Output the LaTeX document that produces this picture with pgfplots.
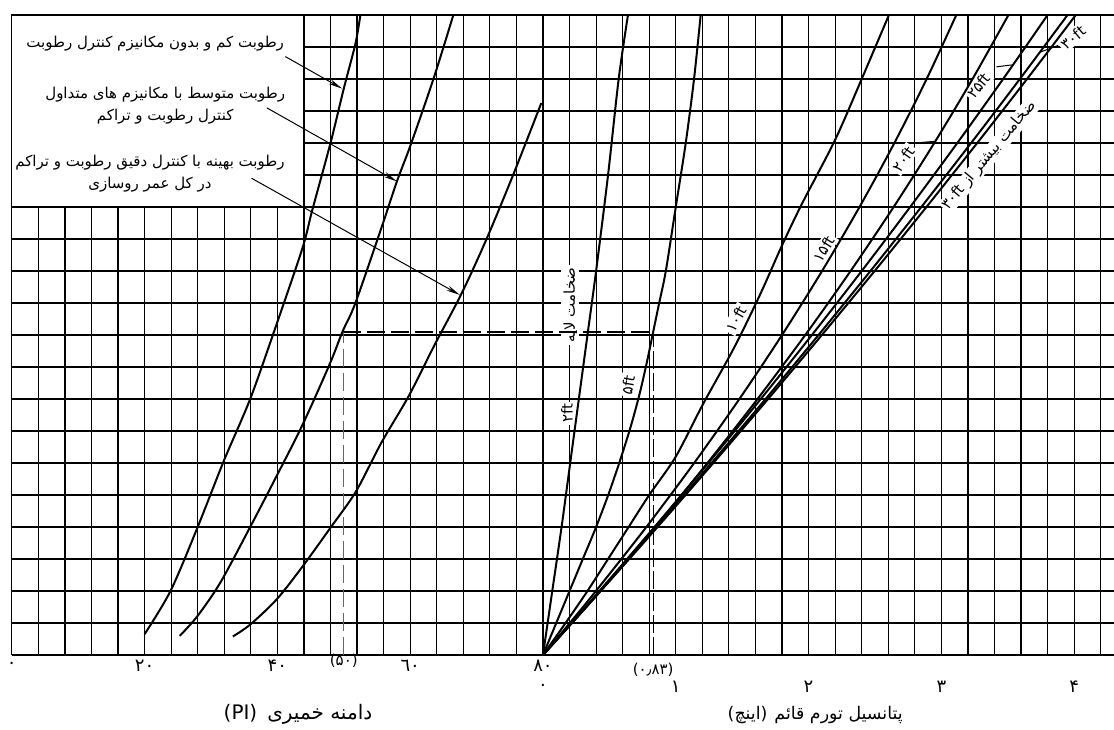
\documentclass[border=0pt]{standalone}
\usepackage{pgfplots}
\pgfplotsset{compat=1.18}
\usepackage{fontspec}
\setmainfont{DejaVu Sans}
\newfontfamily\fa[Script=Arabic]{DejaVu Sans}
\newfontfamily\la{DejaVu Sans}
\TeXXeTstate=1
\usetikzlibrary{arrows.meta}
\newcommand{\lbl}{\fa\fontsize{7.5}{9}\selectfont}
\newcommand{\llbl}{\la\fontsize{7.5}{9}\selectfont}
\newcommand{\tlbl}{\la\fontsize{9}{10}\selectfont}
\newcommand{\boxf}{\fa\fontsize{7.5}{11}\selectfont}
\newcommand{\R}[1]{\hbox{\fa\beginR #1\endR}}
\newcommand{\Lt}[1]{\hbox{\la #1}}
\begin{document}
\begin{tikzpicture}
\begin{axis}[
  scale only axis, width=551.1pt, height=320pt,
  xmin=0, xmax=166, ymin=0, ymax=20,
  xtick={0,4,...,164}, ytick={0,1,...,20},
  xmajorticks=false, ymajorticks=false,
  xmajorgrids=true, ymajorgrids=true,
  major grid style={black, line width=0.6pt},
  axis line style={draw=none},
  clip=false,
]
\coordinate (SW) at (rel axis cs:0,0);
\coordinate (NE) at (rel axis cs:1,1);
% white legend box
\fill[white] (axis cs:0,14) rectangle (axis cs:44,20);
\draw[black, line width=0.6pt] (axis cs:0,14) rectangle (axis cs:44,20);
\node[font=\boxf, align=center] at (axis cs:21.6,19.1) {\beginR رطوبت کم و بدون مکانیزم کنترل رطوبت\endR};
\node[font=\boxf, align=center] at (axis cs:23.1,17.16) {\beginR رطوبت متوسط با مکانیزم های متداول\endR\\\beginR کنترل رطوبت و تراکم\endR};
\node[font=\boxf, align=center] at (axis cs:20.8,15.03) {\beginR رطوبت بهینه با کنترل دقیق رطوبت و تراکم\endR\\\beginR در کل عمر روسازی\endR};

% labels on the fan (white background, drawn before curves)
\node[font=\lbl, rotate=90, fill=white, inner sep=1pt] at (axis cs:84.1,10.94) {\R{ضخامت لایه}};
\node[font=\llbl, rotate=90, fill=white, inner sep=1pt] at (axis cs:83.6,7.56) {۲ft};
\node[font=\llbl, rotate=80, fill=white, inner sep=1pt] at (axis cs:92.8,8.44) {۵ft};
\node[font=\llbl, rotate=60, fill=white, inner sep=1pt] at (axis cs:109.1,10.5) {۱۰ft};
\node[font=\llbl, rotate=58, fill=white, inner sep=1pt] at (axis cs:122.3,12.7) {۱۵ft};
\node[font=\llbl, rotate=55, fill=white, inner sep=1pt] at (axis cs:134.3,15.5) {۲۰ft};
\node[font=\llbl, rotate=50, fill=white, inner sep=1pt] at (axis cs:145.6,17.8) {۲۵ft};
\node[font=\llbl, rotate=50, fill=white, inner sep=0.5pt] at (axis cs:147.2,15.6) {\Lt{۳۰ft}\hspace{0.3em}\R{ضخامت بیشتر از}};
\node[font=\llbl, rotate=40, fill=white, inner sep=1pt] at (axis cs:159.8,19.3) {۳۰ft};

% leaders
\addplot[black, line width=0.5pt] coordinates {(136,16.0) (138.9,16.05)};
\addplot[black, line width=0.5pt] coordinates {(148.3,18.38) (150.6,18.44)};
\addplot[black, line width=0.5pt] coordinates {(154.9,18.84) (157.6,19.05)};

% dashed construction lines
\addplot[black, line width=0.8pt, dash pattern=on 9pt off 3pt] coordinates {(49.9,10.1) (96.6,10.1)};
\addplot[black!60, line width=0.5pt, dash pattern=on 9pt off 3pt] coordinates {(50,0) (50,10.1)};
\addplot[black, line width=0.6pt, dash pattern=on 9pt off 2pt] coordinates {(96.6,0) (96.6,10.1)};

% left curves (PI vs. moisture condition)
\addplot[black, line width=1pt, smooth] coordinates {
(20,0.65) (23.9,2.0) (27.9,3.95) (31.9,6.05) (35.9,8.0) (39.65,10.2) (43.75,12.7) (45.25,13.9) (48,16) (50,17.7) (51.75,19.1) (52.5,20)};
\addplot[black, line width=1pt, smooth] coordinates {
(25.3,0.6) (27.9,1.2) (31.4,2.26) (35.9,4.0) (39.9,5.6) (43.8,7.2) (47.9,9.1) (49.8,10.1) (51.75,11) (55.75,13.4) (58,14.8) (60,15.9) (63.5,18) (66.5,20)};
\addplot[black, line width=1pt, smooth] coordinates {
(33.3,0.58) (35.9,0.95) (39.9,1.74) (43.8,2.77) (47.9,3.95) (51.8,5.1) (55.65,6.63) (59.8,8.1) (63.65,9.68) (67.75,11.3) (71.5,13) (75.5,15) (79.75,17.25)};

% arrows
\addplot[black, line width=0.5pt, -{Stealth[length=7pt,width=2.6pt]}] coordinates {(41.2,18.7) (49.75,17.7)};
\addplot[black, line width=0.5pt, -{Stealth[length=7pt,width=2.6pt]}] coordinates {(38.4,17.1) (58,14.8)};
\addplot[black, line width=0.5pt, -{Stealth[length=7pt,width=2.6pt]}] coordinates {(36.1,14.9) (67.5,11.25)};

% right fan (swell potential vs. layer thickness)
\addplot[black, line width=1pt, smooth] coordinates {% 2ft
(80,0) (81.4,2) (82.8,4) (84.1,6) (85.4,8) (86.7,10) (88,12) (89.8,15) (91.4,18) (92.8,20)};
\addplot[black, line width=1pt, smooth] coordinates {% 5ft
(80,0) (82,1) (84,2) (86,3) (88,4) (90,5.1) (91.8,6.2) (93.3,7.2) (94.6,8.2) (95.7,9.2) (96.6,10.1) (97.5,11) (98.5,12) (100,14) (101.5,16) (102.75,18) (103.75,20)};
\addplot[black, line width=1pt, smooth] coordinates {% 10ft
(80,0) (83.4,1) (86.7,2) (89.8,3) (92.9,4) (96,5) (100,6.2) (104,7.8) (108,9.3) (110,10.1) (113,11.4) (116,12.8) (119,14.1) (124,16.1) (128,18) (132.1,20)};
\addplot[black, line width=1pt, smooth] coordinates {% 15ft
(80,0) (84.04,1) (87.98,2) (95.57,4) (102.77,6) (109.58,8) (116,10) (122.03,12) (127.67,14) (132.92,16) (137.78,18) (142.25,20)};
\addplot[black, line width=1pt, smooth] coordinates {% 20ft
(80,0) (84.35,1) (88.61,2) (96.87,4) (104.77,6) (112.31,8) (119.5,10) (126.33,12) (132.81,14) (138.93,16) (144.69,18) (150.1,20)};
\addplot[black, line width=1pt, smooth] coordinates {% 25ft
(80,0) (84.28,1) (88.5,2) (96.8,4) (104.9,6) (112.8,8) (120.5,10) (128,12) (135.3,14) (142.4,16) (149.3,18) (156,20)};
\addplot[black, line width=1pt, smooth] coordinates {% 30ft
(80,0) (84.33,1) (88.62,2) (97.08,4) (105.38,6) (113.52,8) (121.5,10) (129.32,12) (136.98,14) (144.48,16) (151.82,18) (159,20)};
\addplot[black, line width=1pt, smooth] coordinates {% more than 30ft
(80,0) (84.37,1) (88.7,2) (97.25,4) (105.65,6) (113.9,8) (122,10) (129.95,12) (137.75,14) (145.4,16) (152.9,18) (160.25,20)};

% tick labels
\node[font=\tlbl] at (axis cs:0,-0.34) {۰};
\node[font=\tlbl] at (axis cs:20,-0.34) {۲۰};
\node[font=\tlbl] at (axis cs:40,-0.34) {۴۰};
\node[font=\llbl] at (axis cs:50,-0.18) {(۵۰)};
\node[font=\tlbl] at (axis cs:60,-0.34) {٦۰};
\node[font=\tlbl] at (axis cs:80,-0.34) {۸۰};
\node[font=\tlbl] at (axis cs:80,-1.0) {۰};
\node[font=\llbl] at (axis cs:96.6,-0.45) {(۰٫۸۳)};
\node[font=\tlbl] at (axis cs:100,-1.0) {۱};
\node[font=\tlbl] at (axis cs:120,-1.0) {۲};
\node[font=\tlbl] at (axis cs:140,-1.0) {۳};
\node[font=\tlbl] at (axis cs:160,-1.0) {۴};
% axis titles
\node[font=\la\fontsize{10}{12}\selectfont] at (axis cs:43.1,-1.84) {\Lt{(PI)}\hspace{0.5em}\R{دامنه خمیری}};
\node[font=\la\fontsize{8.7}{11}\selectfont] at (axis cs:121,-1.87) {\Lt{(}\R{اینچ}\Lt{)}\hspace{0.4em}\R{پتانسیل تورم قائم}};
\end{axis}
\pgfresetboundingbox
\path[use as bounding box] ([xshift=-5.9pt,yshift=-37pt]SW) rectangle ([yshift=7.5pt]NE);
\end{tikzpicture}
\end{document}
